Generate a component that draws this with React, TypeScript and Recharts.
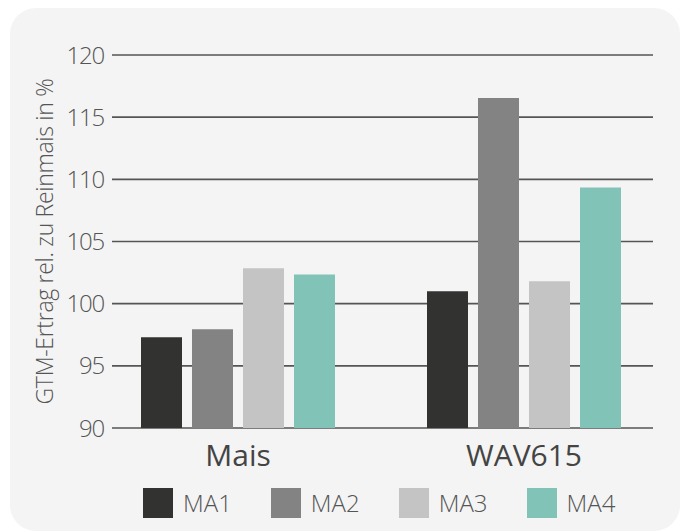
import React from "react";
import { BarChart, Bar, XAxis, YAxis, CartesianGrid } from "recharts";

const categories = ["Mais", "WAV615"];
const seriesNames = ["MA1", "MA2", "MA3", "MA4"];
const ma1 = [97.3, 101.0];
const ma2 = [97.95, 116.55];
const ma3 = [102.85, 101.8];
const ma4 = [102.35, 109.35];
const yTicks = [90, 95, 100, 105, 110, 115, 120];
const colors = ["#323230", "#838383", "#c4c4c4", "#82c3b8"];
const yLabel = "GTM-Ertrag rel. zu Reinmais in %";

const seriesValues = [ma1, ma2, ma3, ma4];
const data = categories.map((c, i) => {
  const row: Record<string, string | number> = { name: c };
  seriesNames.forEach((s, j) => {
    row[s] = seriesValues[j][i];
  });
  return row;
});

const FONT = "'Open Sans', 'DejaVu Sans', sans-serif";

const YLabelContent = (props: any) => {
  const vb = props.viewBox || {};
  const cy = (vb.y ?? 0) + (vb.height ?? 0) / 2;
  const cx = 44;
  return (
    <text
      x={cx}
      y={cy}
      transform={`rotate(-90, ${cx}, ${cy})`}
      textAnchor="middle"
      dominantBaseline="central"
      fontFamily={FONT}
      fontWeight={300}
      fontSize={23}
      letterSpacing={-0.3}
      fill="#555"
    >
      {yLabel}
    </text>
  );
};

export default function App() {
  return (
    <div style={{ position: "absolute", left: 0, top: 0, width: 682, height: 531, background: "#fff" }}>
      <div
        style={{
          position: "absolute",
          left: 10,
          top: 8,
          width: 670,
          height: 523,
          borderRadius: 26,
          background: "#f4f4f4",
        }}
      />
      <div style={{ position: "absolute", left: 0, top: 0 }}>
        <BarChart
          width={682}
          height={531}
          data={data}
          margin={{ top: 55, right: 29, left: 0, bottom: 63 }}
          barSize={41}
          barGap={10}
        >
          <CartesianGrid vertical={false} stroke="#555" strokeWidth={1.6} />
          <XAxis
            dataKey="name"
            axisLine={false}
            tickLine={false}
            height={40}
            tickMargin={11}
            padding={{ left: -17, right: -14 }}
            tick={{ fontFamily: FONT, fontSize: 30, fill: "#444", fontWeight: 400 }}
          />
          <YAxis
            width={112}
            domain={[90, 120]}
            ticks={yTicks}
            allowDataOverflow
            axisLine={false}
            tickLine={false}
            tickMargin={2}
            tick={{ fontFamily: FONT, fontSize: 24, fill: "#555", fontWeight: 300, letterSpacing: -1.2 }}
            label={{ content: YLabelContent } as any}
          />
          {seriesNames.map((s, j) => (
            <Bar key={s} dataKey={s} fill={colors[j]} isAnimationActive={false} />
          ))}
        </BarChart>
      </div>
      <div
        style={{
          position: "absolute",
          left: 143,
          top: 488,
          display: "flex",
          alignItems: "center",
          fontFamily: FONT,
          fontWeight: 300,
          fontSize: 24,
          color: "#555",
        }}
      >
        {seriesNames.map((s, j) => (
          <div key={s} style={{ display: "flex", alignItems: "center", marginRight: 39 }}>
            <div style={{ width: 30, height: 30, background: colors[j], marginRight: 10 }} />
            <span style={{ lineHeight: "30px" }}>{s}</span>
          </div>
        ))}
      </div>
    </div>
  );
}
